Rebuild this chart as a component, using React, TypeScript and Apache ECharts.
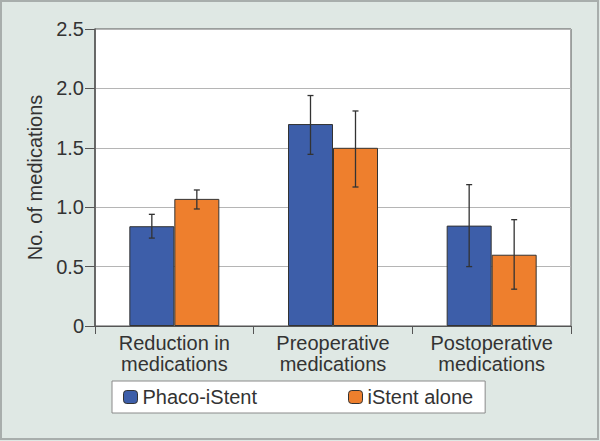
import React, { useEffect, useRef } from "react";
import * as echarts from "echarts";

const categories = ["Reduction in\nmedications", "Preoperative\nmedications", "Postoperative\nmedications"];
const seriesNames = ["Phaco-iStent", "iStent alone"];
const phacoValues = [0.84, 1.70, 0.845];
const istentValues = [1.07, 1.50, 0.60];
const phacoErrLow = [0.74, 1.445, 0.50];
const phacoErrHigh = [0.94, 1.94, 1.19];
const istentErrLow = [0.985, 1.17, 0.31];
const istentErrHigh = [1.145, 1.81, 0.895];
const yTicks = [0, 0.5, 1.0, 1.5, 2.0, 2.5];

const BLUE = "#3d5ea9";
const ORANGE = "#ee7f2d";
const BAR_W = 45;
const FONT = "Liberation Sans, Arial, sans-serif";
const FS = 20;

function errSeries(name: string, lows: number[], highs: number[], offset: number) {
  return {
    type: "custom",
    name,
    z: 5,
    data: lows.map((l, i) => [i, l, highs[i]]),
    renderItem: (params: any, api: any) => {
      const idx = api.value(0);
      const lo = api.coord([idx, api.value(1)]);
      const hi = api.coord([idx, api.value(2)]);
      const x = lo[0] + offset;
      const cap = 3;
      const style = { stroke: "#333", lineWidth: 1.3 };
      return {
        type: "group",
        children: [
          { type: "line", shape: { x1: x, y1: hi[1], x2: x, y2: lo[1] }, style },
          { type: "line", shape: { x1: x - cap, y1: hi[1], x2: x + cap, y2: hi[1] }, style },
          { type: "line", shape: { x1: x - cap, y1: lo[1], x2: x + cap, y2: lo[1] }, style },
        ],
      };
    },
  };
}

export default function App() {
  const ref = useRef<HTMLDivElement>(null);
  useEffect(() => {
    if (!ref.current) return;
    const chart = echarts.init(ref.current, null, { renderer: "svg" });
    chart.setOption({
      animation: false,
      backgroundColor: "#dfe8e4",
      textStyle: { fontFamily: FONT },
      graphic: [
        {
          type: "rect",
          shape: { x: 1, y: 1, width: 597, height: 438 },
          style: { fill: "none", stroke: "#a8aeac", lineWidth: 2 },
          silent: true,
        },
      ],
      grid: {
        left: 95,
        right: 29,
        top: 29,
        bottom: 115,
        show: true,
        backgroundColor: "#ffffff",
        borderColor: "#555",
        borderWidth: 1,
      },
      legend: {
        data: seriesNames,
        left: 112,
        top: 381,
        orient: "horizontal",
        itemWidth: 14,
        itemHeight: 13,
        itemGap: 91,
        padding: [6, 12, 6, 11],
        backgroundColor: "#ffffff",
        borderColor: "#8a8a8a",
        borderWidth: 1,
        borderRadius: 0,
        textStyle: { fontSize: FS, color: "#333", fontFamily: FONT },
        itemStyle: { borderColor: "#333", borderWidth: 1 },
      },
      xAxis: {
        type: "category",
        data: categories,
        boundaryGap: true,
        axisLine: { show: true, lineStyle: { color: "#555", width: 1 } },
        axisTick: { show: true, length: 8, interval: 0, alignWithLabel: false, lineStyle: { color: "#555" } },
        axisLabel: { fontSize: FS, color: "#333", lineHeight: 21, margin: 6, interval: 0, fontFamily: FONT },
        splitLine: { show: false },
      },
      yAxis: {
        type: "value",
        min: 0,
        max: 2.5,
        interval: 0.5,
        name: "No. of medications",
        nameLocation: "middle",
        nameGap: 48,
        nameTextStyle: { fontSize: FS, color: "#333", fontFamily: FONT },
        axisLine: { show: true, lineStyle: { color: "#555", width: 1.5 } },
        axisTick: { show: true, length: 10, lineStyle: { color: "#555" } },
        axisLabel: {
          fontSize: FS,
          color: "#333",
          margin: 11,
          fontFamily: FONT,
          formatter: (v: number) => (yTicks.indexOf(v) === 0 ? "0" : v.toFixed(1)),
        },
        splitLine: { show: true, lineStyle: { color: "#b5b5b5", width: 1 } },
      },
      series: [
        {
          type: "bar",
          name: seriesNames[0],
          data: phacoValues,
          barWidth: BAR_W,
          barGap: "0%",
          itemStyle: { color: BLUE, borderColor: "#333", borderWidth: 1 },
        },
        {
          type: "bar",
          name: seriesNames[1],
          data: istentValues,
          barWidth: BAR_W,
          barGap: "0%",
          itemStyle: { color: ORANGE, borderColor: "#333", borderWidth: 1 },
        },
        errSeries("errPhaco", phacoErrLow, phacoErrHigh, -BAR_W / 2),
        errSeries("errIstent", istentErrLow, istentErrHigh, BAR_W / 2),
      ],
    });
    return () => chart.dispose();
  }, []);
  return (
    <div
      ref={ref}
      style={{ position: "fixed", left: 0, top: 0, width: 600, height: 441 }}
    />
  );
}
